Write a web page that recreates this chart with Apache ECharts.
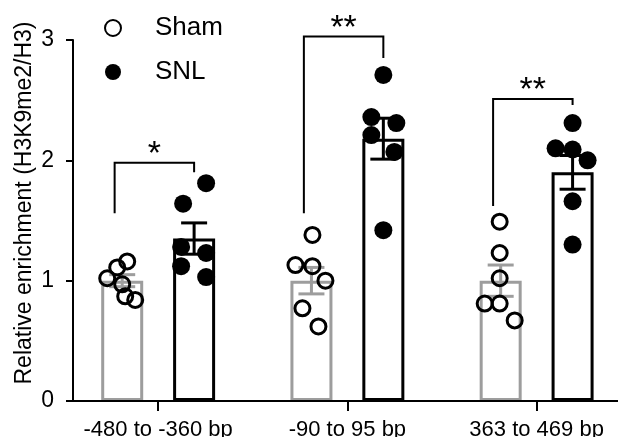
<!DOCTYPE html>
<html>
<head>
<meta charset="utf-8">
<title>H3K9me2 enrichment</title>
<style type="text/css">
    *{ margin:0; padding:0; }
    html,body{ width:100%; height:100%; background:#fff; }
    #main{ width:618px; height:437px; }
</style>
</head>
<body>
<div id="main"></div>
<script src="https://cdn.jsdelivr.net/npm/echarts@6/dist/echarts.min.js"></script>
<script type="text/javascript">
// categories / groups
var groups = ['-480 to -360 bp', '-90 to 95 bp', '363 to 469 bp'];

// individual points
var shamValues = [
    [1.16, 1.11, 1.02, 0.97, 0.87, 0.84],
    [1.38, 1.13, 1.12, 1.00, 0.77, 0.62],
    [1.49, 1.23, 1.02, 0.81, 0.81, 0.67]
];
var snlValues = [
    [1.81, 1.64, 1.28, 1.23, 1.12, 1.03],
    [2.71, 2.36, 2.31, 2.21, 2.07, 1.42],
    [2.31, 2.10, 2.09, 2.00, 1.66, 1.30]
];

// bar heights and SEM
var shamMean = [1.00, 1.00, 1.00];
var shamSem  = [0.05, 0.11, 0.13];
var snlMean  = [1.35, 2.18, 1.90];
var snlSem   = [0.13, 0.17, 0.14];

// significance brackets (value units)
var sigLabels   = ['*', '**', '**'];
var sigTop      = [1.98, 3.03, 2.51];
var sigLeftEnd  = [1.56, 1.56, 1.62];
var sigRightEnd = [1.90, 2.85, 2.46];

var yTicks = [0, 1, 2, 3];

// horizontal jitter of the dots, in pixels
var shamJitter = [[5, -5, -15, 0, 3, 13], [1, -16, 1, 14, -9, 7], [-1, -1, -1, -16, -1, 14]];
var snlJitter  = [[12, -11, -13, 12, -13, 12], [0, -12, 13, -12, 11, 0], [0, -17, 0, 15, 0, 0]];

var OFF = 0.19;      // bar offset from group centre (axis units)
var GREY = '#9d9d9d';
var FONT = 'Arial, "Liberation Sans", sans-serif';

var myChart = echarts.init(document.getElementById('main'), null, {renderer: 'canvas'});

var barData = [];
var errData = [];
var shamPts = [];
var snlPts = [];
var sigData = [];
for (var g = 0; g < groups.length; g++) {
    var xs = g + 1 - OFF, xn = g + 1 + OFF;
    barData.push({value: [xs, shamMean[g]], itemStyle: {borderColor: GREY}});
    barData.push({value: [xn, snlMean[g]], itemStyle: {borderColor: '#000'}});
    errData.push([xs, shamMean[g], shamSem[g], 0]);
    errData.push([xn, snlMean[g], snlSem[g], 1]);
    for (var i = 0; i < shamValues[g].length; i++) {
        shamPts.push({value: [xs, shamValues[g][i]], symbolOffset: [shamJitter[g][i], 0]});
    }
    for (var j = 0; j < snlValues[g].length; j++) {
        snlPts.push({value: [xn, snlValues[g][j]], symbolOffset: [snlJitter[g][j], 0]});
    }
    sigData.push([g + 1, sigTop[g], sigLeftEnd[g], sigRightEnd[g], g]);
}

var option = {
    animation: false,
    backgroundColor: '#fff',
    grid: {left: 73, right: 0, top: 40, bottom: 36, containLabel: false, outerBoundsMode: 'none'},
    legend: {
        data: ['Sham', 'SNL'],
        orient: 'vertical',
        left: 99,
        top: 10,
        itemWidth: 74,
        itemHeight: 16,
        itemGap: 18,
        textStyle: {fontSize: 26, color: '#000', fontFamily: FONT}
    },
    graphic: [{
        type: 'text',
        x: 25,
        y: 203,
        rotation: Math.PI / 2,
        style: {
            text: 'Relative enrichment (H3K9me2/H3)',
            font: '23px ' + FONT,
            fill: '#000',
            textAlign: 'center',
            textVerticalAlign: 'middle'
        }
    }],
    xAxis: {
        type: 'value',
        min: 0.55,
        max: 3.43,
        z: 10,
        splitLine: {show: false},
        axisLine: {show: true, lineStyle: {color: '#000', width: 2}},
        axisTick: {show: true, length: 10, customValues: [1, 2, 3], lineStyle: {color: '#000', width: 2}},
        axisLabel: {
            customValues: [1, 2, 3],
            margin: 18,
            fontSize: 22,
            color: '#000',
            fontFamily: FONT,
            formatter: function (v) { return groups[Math.round(v) - 1] || ''; }
        }
    },
    yAxis: {
        type: 'value',
        min: yTicks[0],
        max: yTicks[yTicks.length - 1],
        interval: 1,
        z: 10,
        splitLine: {show: false},
        axisLine: {show: true, lineStyle: {color: '#000', width: 2}},
        axisTick: {show: true, length: 7, lineStyle: {color: '#000', width: 2}},
        axisLabel: {margin: 19, fontSize: 23, color: '#000', fontFamily: FONT}
    },
    series: [
        {
            type: 'bar',
            barWidth: 42,
            z: 2,
            itemStyle: {color: '#fff', borderWidth: 3},
            data: barData
        },
        {
            type: 'custom',
            z: 3,
            renderItem: function (params, api) {
                var x = api.value(0), m = api.value(1), s = api.value(2);
                var col = api.value(3) ? '#000' : GREY;
                var top = api.coord([x, m + s]);
                var bot = api.coord([x, m - s]);
                var hw = 13;
                var st = {stroke: col, lineWidth: 3};
                return {
                    type: 'group',
                    children: [
                        {type: 'line', shape: {x1: top[0], y1: top[1], x2: bot[0], y2: bot[1]}, style: st},
                        {type: 'line', shape: {x1: top[0] - hw, y1: top[1], x2: top[0] + hw, y2: top[1]}, style: st},
                        {type: 'line', shape: {x1: bot[0] - hw, y1: bot[1], x2: bot[0] + hw, y2: bot[1]}, style: st}
                    ]
                };
            },
            data: errData
        },
        {
            name: 'Sham',
            type: 'scatter',
            z: 4,
            symbol: 'circle',
            symbolSize: 15,
            itemStyle: {color: 'rgba(255,255,255,0)', borderColor: '#000', borderWidth: 3, opacity: 1},
            data: shamPts
        },
        {
            name: 'SNL',
            type: 'scatter',
            z: 4,
            symbol: 'circle',
            symbolSize: 18,
            itemStyle: {color: '#000', opacity: 1},
            data: snlPts
        },
        {
            type: 'custom',
            z: 5,
            clip: false,
            renderItem: function (params, api) {
                var c = api.value(0), t = api.value(1);
                var l = api.coord([c - 0.23, api.value(2)]);
                var r = api.coord([c + 0.19, api.value(3)]);
                var lt = api.coord([c - 0.23, t]);
                var rt = api.coord([c + 0.19, t]);
                var st = {stroke: '#000', lineWidth: 2, fill: null};
                return {
                    type: 'group',
                    children: [
                        {type: 'polyline', shape: {points: [l, lt, rt, r]}, style: st},
                        {type: 'text', x: (lt[0] + rt[0]) / 2, y: lt[1] - 8,
                         style: {text: sigLabels[api.value(4)], font: '34px ' + FONT, fill: '#000',
                                 textAlign: 'center', textVerticalAlign: 'middle'}}
                    ]
                };
            },
            data: sigData
        }
    ]
};
myChart.setOption(option);
</script>
</body>
</html>
